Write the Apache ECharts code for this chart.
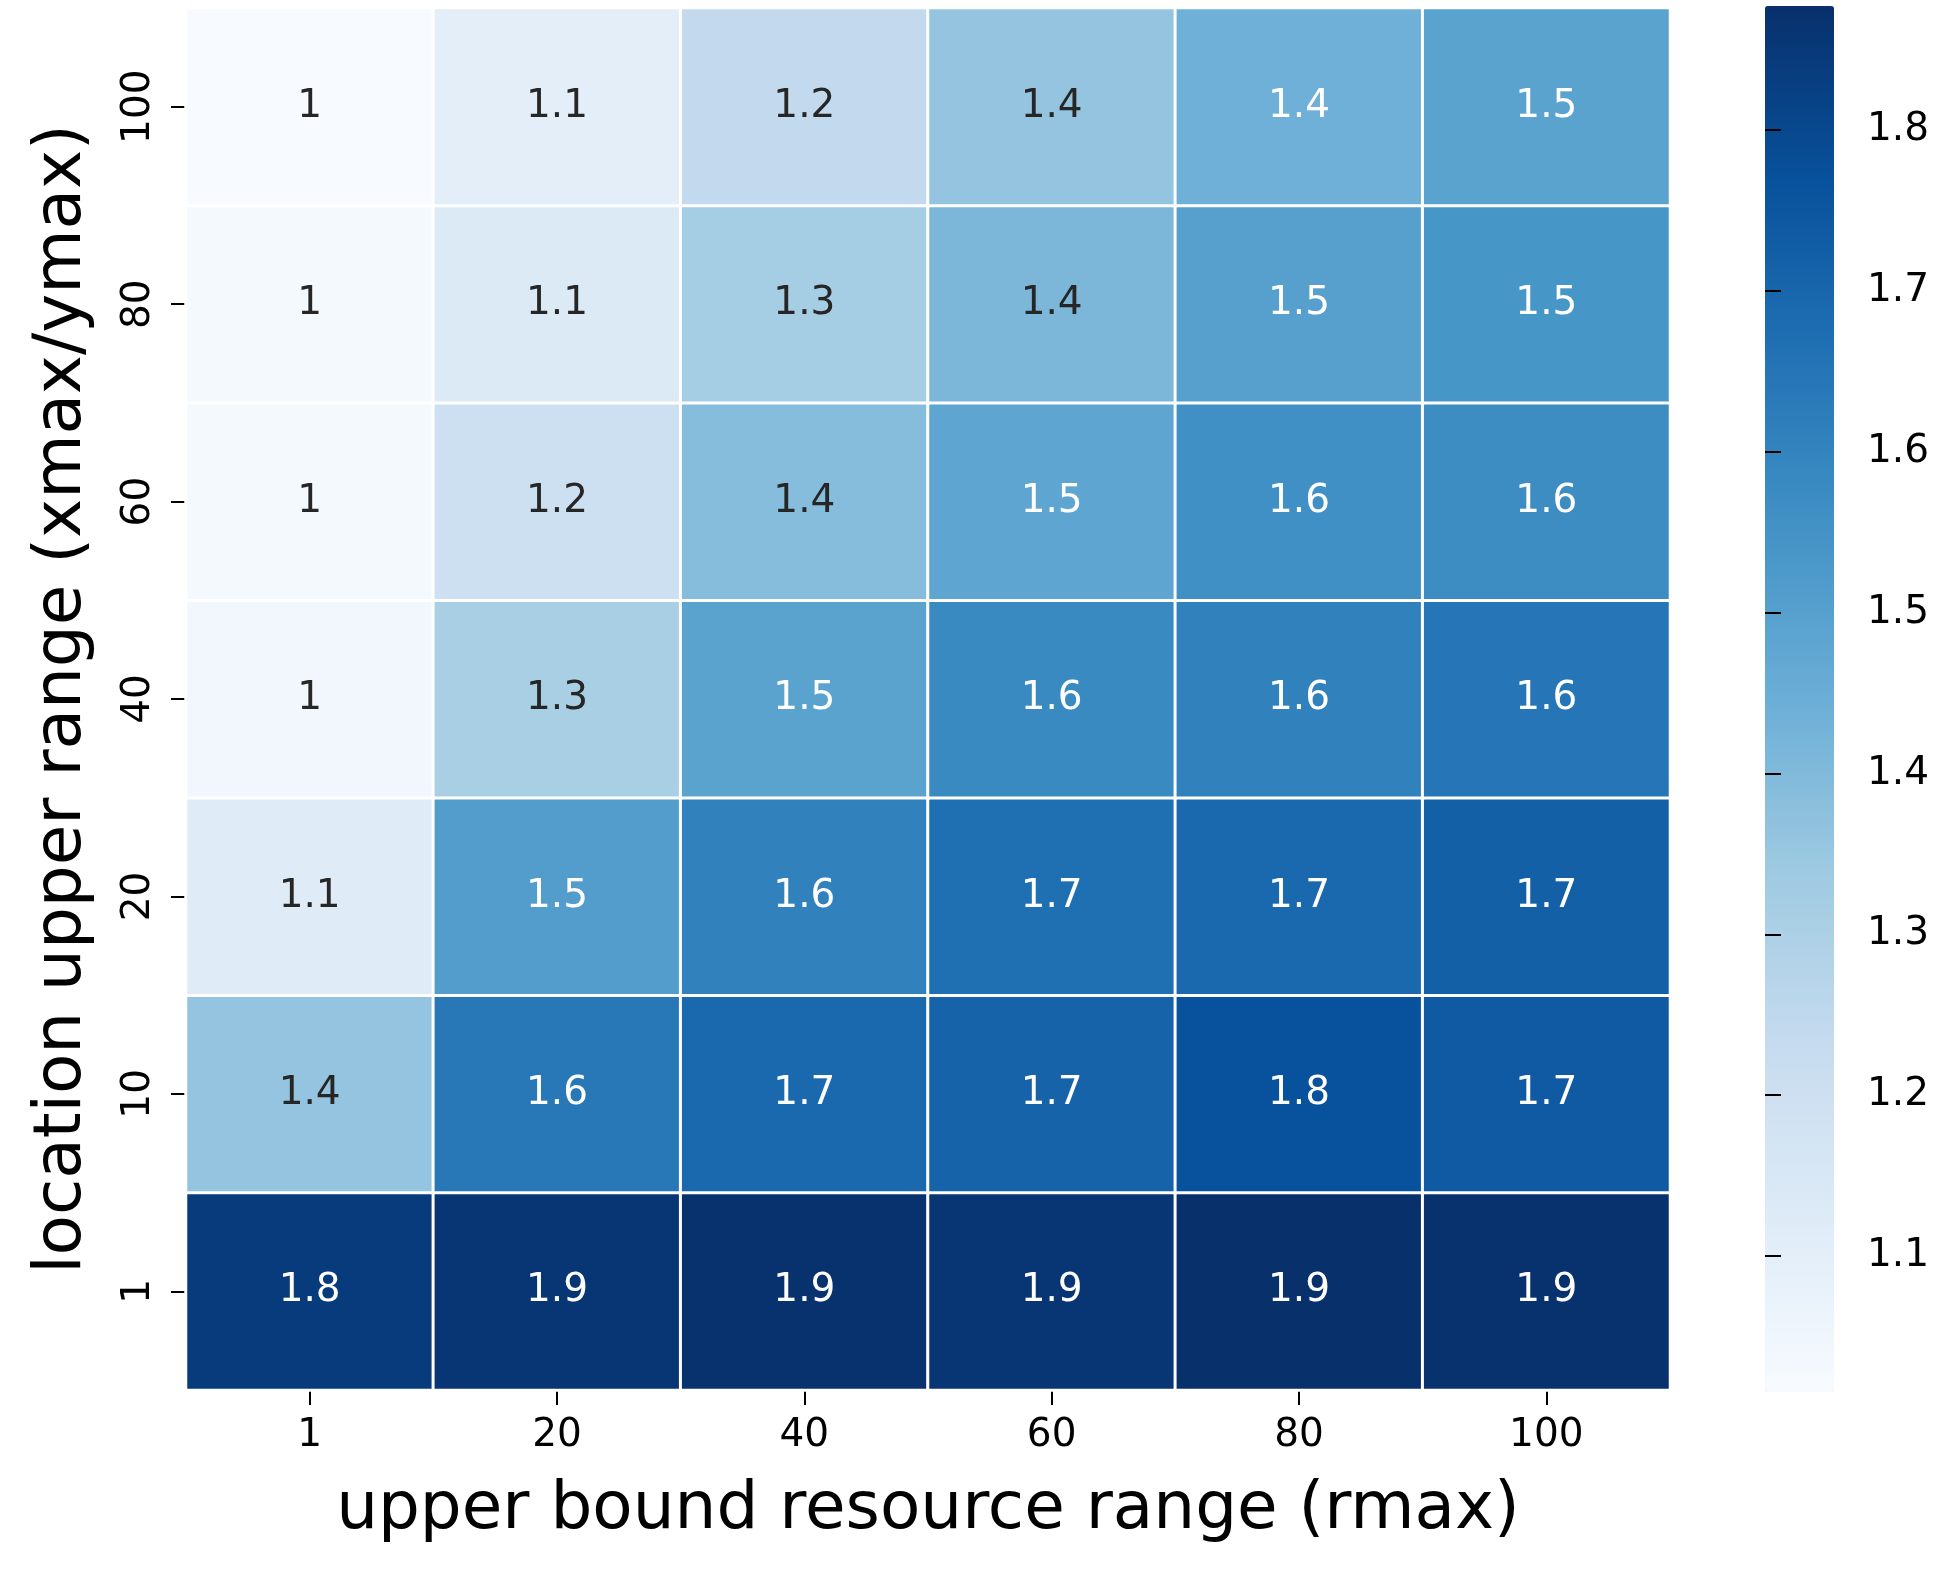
<!DOCTYPE html>
<html>
<head>
<meta charset="utf-8">
<script src="https://cdn.jsdelivr.net/npm/echarts@6/dist/echarts.min.js"></script>
<style>
html,body{margin:0;padding:0;background:#fff;}
#main{width:1959px;height:1576px;}
</style>
</head>
<body>
<div id="main"></div>
<script>
const xCategories = ['1', '20', '40', '60', '80', '100'];
const yCategories = ['1', '10', '20', '40', '60', '80', '100'];
// values per row (row label = location upper range), columns follow xCategories
const row100 = [1.0155, 1.10, 1.24, 1.36, 1.44, 1.49];
const row80  = [1.03, 1.13, 1.32, 1.41, 1.50, 1.54];
const row60  = [1.03, 1.20, 1.39, 1.48, 1.56, 1.57];
const row40  = [1.04, 1.31, 1.49, 1.58, 1.61, 1.65];
const row20  = [1.12, 1.51, 1.61, 1.67, 1.69, 1.72];
const row10  = [1.36, 1.64, 1.69, 1.71, 1.77, 1.74];
const row1   = [1.84, 1.86, 1.87, 1.86, 1.877, 1.872];
const colorbarTickMin = 1.1, colorbarTickMax = 1.8, colorbarTickStep = 0.1;
const vMin = 1.0155, vMax = 1.877;

const rowsBottomUp = [row1, row10, row20, row40, row60, row80, row100];
const blues = ['#f7fbff', '#deebf7', '#c6dbef', '#9ecae1', '#6baed6', '#4292c6', '#2171b5', '#08519c', '#08306b'];

function hexToRgb(h) { return [parseInt(h.substr(1,2),16), parseInt(h.substr(3,2),16), parseInt(h.substr(5,2),16)]; }
function bluesColor(v) {
  let t = (v - vMin) / (vMax - vMin);
  t = Math.max(0, Math.min(1, t));
  const pos = t * (blues.length - 1);
  const i = Math.min(Math.floor(pos), blues.length - 2);
  const f = pos - i;
  const a = hexToRgb(blues[i]), b = hexToRgb(blues[i + 1]);
  return a.map((c, k) => c + (b[k] - c) * f);
}
function luminance(rgb) {
  const lin = rgb.map(c => { c = c / 255; return c <= 0.03928 ? c / 12.92 : Math.pow((c + 0.055) / 1.055, 2.4); });
  return 0.2126 * lin[0] + 0.7152 * lin[1] + 0.0722 * lin[2];
}

const data = [];
rowsBottomUp.forEach((row, yi) => {
  row.forEach((v, xi) => {
    const lum = luminance(bluesColor(v));
    data.push({ value: [xi, yi, v], label: { color: lum > 0.408 ? '#262626' : '#ffffff' } });
  });
});

// colorbar geometry: bar spans vMin..vMax over 6..1392 px; tick axis grid spans 1.1..1.8
const barTop = 6, barHeight = 1386;
const pxPerUnit = barHeight / (vMax - vMin);
const tickGridTop = barTop + (vMax - colorbarTickMax) * pxPerUnit;
const tickGridHeight = (colorbarTickMax - colorbarTickMin) * pxPerUnit;

const FONT = 'DejaVu Sans';
const chart = echarts.init(document.getElementById('main'), null, { renderer: 'canvas' });
chart.setOption({
  animation: false,
  backgroundColor: '#ffffff',
  grid: [
    { left: 186, top: 8, width: 1484, height: 1382, containLabel: false },
    { left: 1765, top: tickGridTop, width: 69, height: tickGridHeight, containLabel: false }
  ],
  xAxis: [
    {
      type: 'category', gridIndex: 0, data: xCategories,
      axisLine: { show: false },
      axisTick: { show: true, alignWithLabel: true, length: 15, lineStyle: { color: '#000', width: 2 } },
      axisLabel: { fontFamily: FONT, fontSize: 39, color: '#000', margin: 26 },
      splitLine: { show: false },
      name: 'upper bound resource range (rmax)', nameLocation: 'middle', nameGap: 88,
      nameTextStyle: { fontFamily: FONT, fontSize: 66, color: '#000' }
    },
    { type: 'value', gridIndex: 1, show: false, min: 0, max: 1 }
  ],
  yAxis: [
    {
      type: 'category', gridIndex: 0, data: yCategories,
      axisLine: { show: false },
      axisTick: { show: true, alignWithLabel: true, length: 15, lineStyle: { color: '#000', width: 2 } },
      axisLabel: { fontFamily: FONT, fontSize: 39, color: '#000', rotate: 90, margin: 28 },
      splitLine: { show: false },
      name: 'location upper range (xmax/ymax)', nameLocation: 'middle', nameGap: 90,
      nameTextStyle: { fontFamily: FONT, fontSize: 66, color: '#000' }
    },
    {
      type: 'value', gridIndex: 1, position: 'right',
      min: colorbarTickMin, max: colorbarTickMax, interval: colorbarTickStep,
      axisLine: { show: true, lineStyle: { color: 'rgba(0,0,0,0)', width: 0 } },
      axisTick: { show: true, inside: false, length: 16, lineStyle: { color: '#000000', width: 2 } },
      axisLabel: { fontFamily: FONT, fontSize: 39, color: '#000', margin: 33,
        formatter: v => v.toFixed(1) },
      splitLine: { show: false },
      z: 10
    }
  ],
  visualMap: {
    type: 'continuous', min: vMin, max: vMax, seriesIndex: 0,
    orient: 'vertical', left: 1765, top: barTop, itemWidth: 69, itemHeight: barHeight,
    padding: 0, calculable: false, realtime: false, show: true,
    inRange: { color: blues },
    textStyle: { fontSize: 0 }
  },
  series: [
    {
      type: 'heatmap', xAxisIndex: 0, yAxisIndex: 0, data: data,
      itemStyle: { borderColor: '#ffffff', borderWidth: 3 },
      label: {
        show: true, fontFamily: FONT, fontSize: 39,
        formatter: p => Number(p.value[2].toPrecision(2)).toString()
      },
      emphasis: { disabled: true }
    }
  ]
});
</script>
</body>
</html>
